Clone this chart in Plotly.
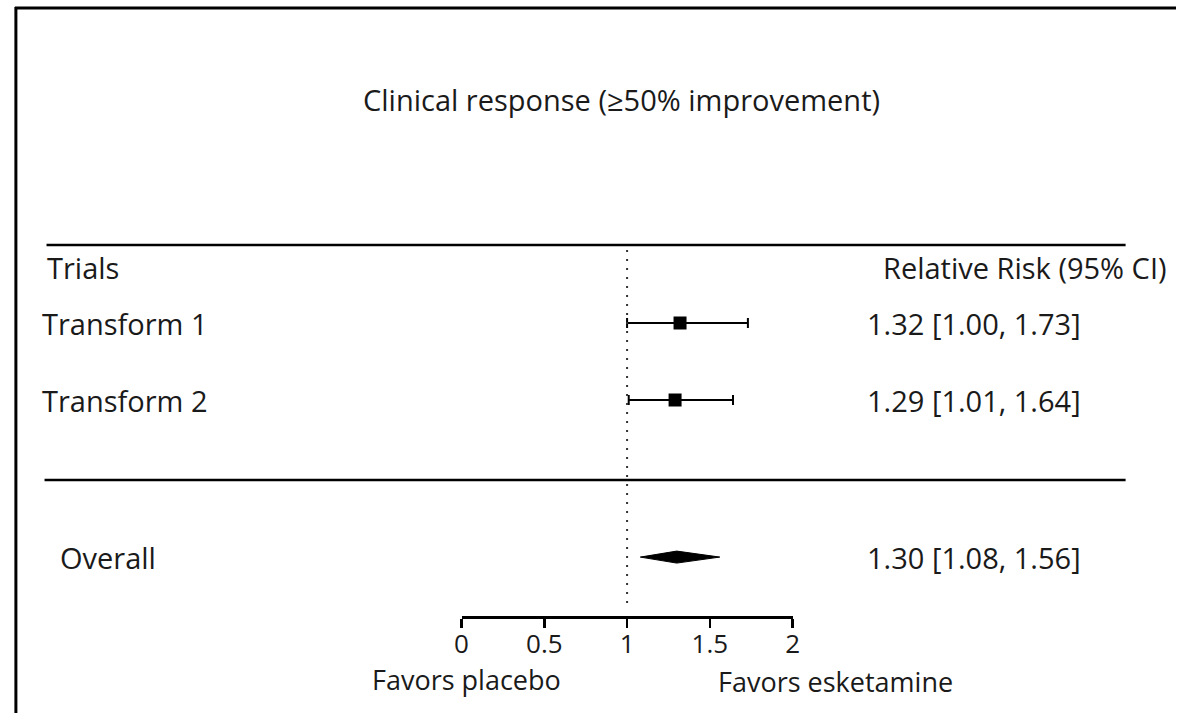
import plotly.graph_objects as go

# ---- data ----
trials = ["Transform 1", "Transform 2"]
rr = [1.32, 1.29]
ci_low = [1.00, 1.01]
ci_high = [1.73, 1.64]
overall_label = "Overall"
overall_rr = 1.30
overall_low = 1.08
overall_high = 1.56
tick_vals = [0, 0.5, 1, 1.5, 2]
tick_text = ["0", "0.5", "1", "1.5", "2"]
title_text = "Clinical response (≥50% improvement)"

# ---- layout constants ----
W, H = 1183, 713
FONT = "Open Sans"
FS = 29
TICK_FS = 26
TXT = "#1a1a1a"
row_y = [1, 2]          # rows of the trials (row units)
overall_y = 4.04
px_per_row = 77.0
y_top = 1 - 323 / px_per_row
y_bot = 1 + (H - 323) / px_per_row


def row_of_px(p):
    return 1 + (p - 323) / px_per_row


header_y = row_of_px(267)

fig = go.Figure()

labels = [f"{m:.2f} [{l:.2f}, {h:.2f}]" for m, l, h in zip(rr, ci_low, ci_high)]
overall_text = f"{overall_rr:.2f} [{overall_low:.2f}, {overall_high:.2f}]"

# trials: squares with CI whiskers
fig.add_trace(go.Scatter(
    x=rr, y=row_y, mode="markers",
    marker=dict(symbol="square", size=13, color="black"),
    error_x=dict(type="data", symmetric=False,
                 array=[h - m for h, m in zip(ci_high, rr)],
                 arrayminus=[m - l for m, l in zip(rr, ci_low)],
                 thickness=2, width=5, color="black"),
    cliponaxis=False, showlegend=False, hoverinfo="skip"))

# overall diamond
dh = 6 / px_per_row
fig.add_trace(go.Scatter(
    x=[overall_low, overall_rr, overall_high, overall_rr, overall_low],
    y=[overall_y, overall_y - dh, overall_y, overall_y + dh, overall_y],
    mode="lines", fill="toself", fillcolor="black",
    line=dict(color="black", width=1),
    cliponaxis=False, showlegend=False, hoverinfo="skip"))

shapes = []
# dotted null line
shapes.append(dict(type="line", xref="x", yref="y", x0=1, x1=1,
                   y0=row_of_px(250), y1=row_of_px(610),
                   line=dict(color="#333", width=2, dash="2px,7px")))
# horizontal rules
shapes.append(dict(type="line", xref="paper", yref="y", x0=40 / W, x1=1132 / W,
                   y0=row_of_px(245), y1=row_of_px(245), line=dict(color="black", width=2.5)))
shapes.append(dict(type="line", xref="paper", yref="y", x0=38 / W, x1=1132 / W,
                   y0=row_of_px(480), y1=row_of_px(480), line=dict(color="black", width=2.5)))
# frame (top and left)
shapes.append(dict(type="line", xref="paper", yref="paper", x0=8 / W, x1=1,
                   y0=1 - 8 / H, y1=1 - 8 / H, line=dict(color="black", width=3)))
shapes.append(dict(type="line", xref="paper", yref="paper", x0=9 / W, x1=9 / W,
                   y0=1 - 7 / H, y1=0, line=dict(color="black", width=3)))

ann = []


def text(x, y, s, xanchor="left", size=FS):
    ann.append(dict(x=x, y=y, xref="paper", yref="y", text=s, showarrow=False,
                    xanchor=xanchor, yanchor="middle",
                    font=dict(family=FONT, size=size, color=TXT)))


text(622 / W, row_of_px(99), title_text, "center")
text(38 / W, header_y, "Trials")
text(1176 / W, header_y, "Relative Risk (95% CI)", "right")
for name, y, lab in zip(trials, row_y, labels):
    text(33 / W, y, name)
    text(868 / W, y, lab)
text(52 / W, overall_y, overall_label)
text(868 / W, overall_y, overall_text)
text(465 / W, row_of_px(679), "Favors placebo", "center", TICK_FS + 1)
text(838 / W, row_of_px(681), "Favors esketamine", "center", TICK_FS + 1)

fig.update_layout(
    width=W, height=H, autosize=False, margin=dict(l=0, r=0, t=0, b=0),
    paper_bgcolor="white", plot_bgcolor="white",
    shapes=shapes, annotations=ann, showlegend=False,
    xaxis=dict(domain=[460 / W, 795 / W], range=[0, 2], anchor="free",
               position=1 - 617 / H, showline=True, linecolor="black", linewidth=2.5,
               ticks="outside", ticklen=9, tickwidth=2.5, tickcolor="black",
               tickvals=tick_vals, ticktext=tick_text, showgrid=False, zeroline=False,
               ticklabelstandoff=-6,
               tickfont=dict(family=FONT, size=TICK_FS, color=TXT)),
    yaxis=dict(domain=[0, 1], range=[y_bot, y_top], visible=False,
               showgrid=False, zeroline=False),
)

fig.write_html(
    "out.html",
    config={"displayModeBar": False, "staticPlot": True, "responsive": False},
    post_script=(
        "document.documentElement.style.margin='0px';"
        "document.documentElement.style.padding='0px';"
        "document.body.style.margin='0px';document.body.style.padding='0px';"
        "document.body.style.overflow='hidden';"
    ),
)
